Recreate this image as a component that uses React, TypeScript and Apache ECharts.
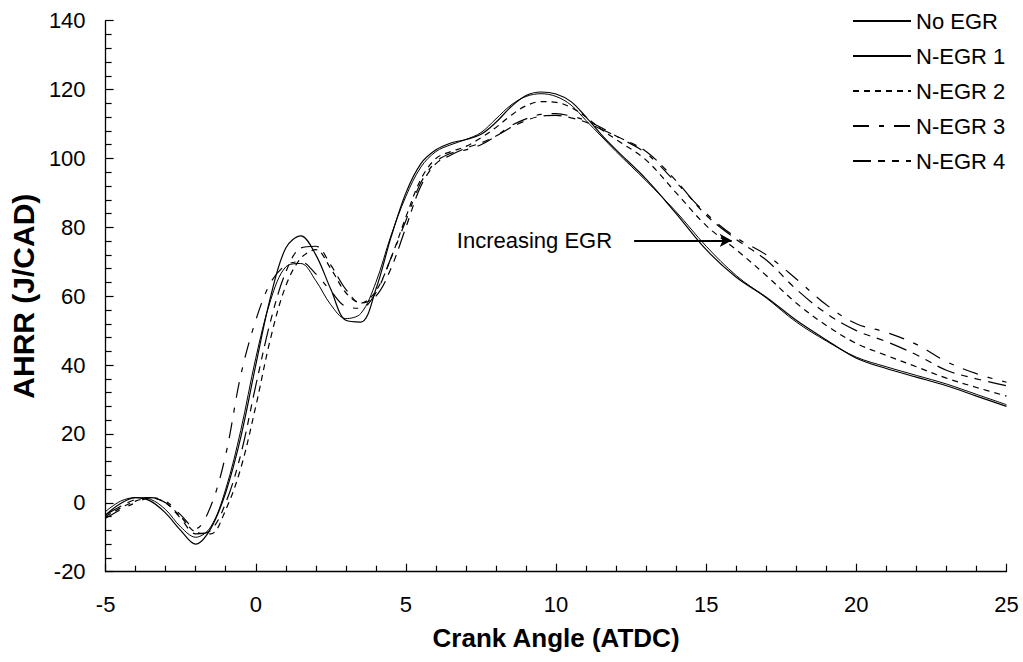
import { useEffect, useRef } from "react";
import * as echarts from "echarts";

// Crank angle samples (deg ATDC)
const crankAngle = [
  -5, -4.5, -4, -3.5, -3, -2.5, -2, -1.5, -1, -0.5, 0, 0.5, 1, 1.5, 2, 2.5, 3, 3.5,
  4, 4.5, 5, 5.5, 6, 6.5, 7, 7.5, 8, 8.5, 9, 9.5, 10, 10.5, 11, 11.5, 12, 13, 14, 15,
  16, 17, 18, 19, 20, 21, 22, 23, 24, 25,
];

// Apparent heat release rate (J/CAD) for each EGR level
const noEgr = [
  -3.5, -0.2, 1.5, 0.5, -3, -8, -12, -7.5, 3, 19, 40, 60, 74, 77.5, 72, 62, 53, 52.5,
  62, 77, 90, 98.5, 102.5, 104.5, 105.5, 107, 110.5, 115, 118.3, 119.3, 118.7, 116.5, 112, 107, 102.5, 94, 84, 73.5,
  65.5, 59.7, 53, 47.3, 42, 39, 36.5, 34, 31, 28,
];
const nEgr1 = [
  -2.5, 0.5, 1.5, 1, -2, -7, -10, -7, 4, 21, 42, 59, 68.5, 69.5, 64.5, 57.5, 53.5, 55,
  64, 77.5, 89, 97.5, 102, 104, 105.5, 107.5, 111.5, 115.5, 118, 118.8, 118, 115.5, 111, 106.5, 102, 93.5, 84.5, 74.5,
  66, 59.5, 52.5, 47, 42.3, 39.5, 37, 34.5, 31.5, 28.5,
];
const nEgr2 = [
  -4, -1.5, 0.5, 1.5, 0, -4, -8.5, -9, -2, 10, 28, 48, 63, 71, 73.5, 68, 61, 58,
  61.5, 71, 83, 94, 100, 102, 103.5, 106, 109, 112.5, 115.3, 116.5, 116.3, 114.8, 112, 108.5, 105.5, 99.5, 90, 80.5,
  73.5, 66, 58, 51.5, 46.3, 42.8, 39.5, 36.2, 33.5, 31,
];
const nEgr3 = [
  -4.5, -2, 0, 1.5, 0.5, -3.5, -7.5, -1, 14, 37, 53, 64, 69, 70, 66.5, 61.5, 57, 56.5,
  61, 71, 82, 93, 99, 101.5, 102.5, 104, 106.5, 109.5, 111.5, 112.8, 113, 112.3, 111, 109, 106.5, 101.5, 93, 84,
  77, 72, 65, 57.5, 52, 49.5, 46, 41, 37.5, 35,
];
const nEgr4 = [
  -3.5, -1, 1, 1.5, 0, -4.5, -9, -8, 0, 14, 34, 53, 67, 74, 74.5, 69, 62, 58,
  60, 68, 80, 92, 98.5, 101, 103, 104.5, 106.5, 109, 111, 112.3, 112.5, 111.8, 110.5, 108.5, 106.5, 102, 93.5, 83.5,
  76.5, 70.5, 62, 55, 50, 46.8, 43, 38.5, 36, 34,
];

const seriesNames = ["No EGR", "N-EGR 1", "N-EGR 2", "N-EGR 3", "N-EGR 4"];
const seriesValues = [noEgr, nEgr1, nEgr2, nEgr3, nEgr4];

// Annotation arrow, in axis units
const arrowLabel = "Increasing EGR";
const arrowFrom = [12.6, 76.2];
const arrowTo = [15.85, 76.2];

const FONT = "'Liberation Sans', Arial, Helvetica, sans-serif";

const dashes: (string | number[])[] = [
  "solid",
  "solid",
  [6, 5],
  [16, 10, 5, 10],
  [18, 7, 7, 7, 7, 7],
];

export default function App() {
  const ref = useRef<HTMLDivElement>(null);

  useEffect(() => {
    if (!ref.current) return;
    const chart = echarts.init(ref.current, null, { renderer: "svg" });

    const series: any[] = seriesNames.map((name, k) => ({
      name,
      type: "line",
      data: crankAngle.map((x, i) => [x, seriesValues[k][i]]),
      smooth: 0.35,
      symbol: "none",
      showSymbol: false,
      lineStyle: { color: "#000", width: k === 1 ? 1 : 1.2, type: dashes[k] },
      itemStyle: { color: "#000" },
      emphasis: { disabled: true },
      z: 2,
    }));

    series[0].markLine = {
      silent: true,
      animation: false,
      symbol: ["none", "arrow"],
      symbolSize: [10, 12],
      lineStyle: { color: "#000", width: 2, type: "solid" },
      label: {
        show: true,
        position: "start",
        distance: 22,
        formatter: arrowLabel,
        fontSize: 22,
        fontFamily: FONT,
        color: "#000",
      },
      emphasis: { disabled: true },
      data: [[{ coord: arrowFrom }, { coord: arrowTo }]],
    };

    chart.setOption({
      animation: false,
      backgroundColor: "#fff",
      textStyle: { fontFamily: FONT, color: "#000" },
      grid: { left: 103.5, right: 16.5, top: 20.7, bottom: 90.3 },
      legend: {
        orient: "vertical",
        left: 852,
        top: 10,
        padding: 0,
        itemWidth: 58,
        itemHeight: 22,
        itemGap: 13,
        selectedMode: false,
        itemStyle: { opacity: 0 },
        textStyle: { fontSize: 22, fontFamily: FONT, color: "#000" },
        data: seriesNames,
      },
      xAxis: {
        type: "value",
        min: -5,
        max: 25,
        interval: 5,
        name: "Crank Angle (ATDC)",
        nameLocation: "middle",
        nameGap: 53,
        nameTextStyle: { fontSize: 26, fontWeight: "bold", fontFamily: FONT, color: "#000" },
        axisLine: { show: true, onZero: false, lineStyle: { color: "#000", width: 1.3 } },
        axisTick: { show: true, inside: true, length: 8, lineStyle: { color: "#000", width: 1.2 } },
        minorTick: { show: true, splitNumber: 5, length: 6, lineStyle: { color: "#000", width: 1.2 } },
        axisLabel: { fontSize: 22, margin: 22, color: "#000", fontFamily: FONT },
        splitLine: { show: false },
      },
      yAxis: {
        type: "value",
        min: -20,
        max: 140,
        interval: 20,
        name: "AHRR (J/CAD)",
        nameLocation: "middle",
        nameGap: 62,
        nameTextStyle: { fontSize: 30, fontWeight: "bold", fontFamily: FONT, color: "#000" },
        axisLine: { show: true, onZero: false, lineStyle: { color: "#000", width: 1.3 } },
        axisTick: { show: true, inside: true, length: 8, lineStyle: { color: "#000", width: 1.2 } },
        minorTick: { show: true, splitNumber: 5, length: 6, lineStyle: { color: "#000", width: 1.2 } },
        axisLabel: { fontSize: 22, margin: 20, color: "#000", fontFamily: FONT },
        splitLine: { show: false },
      },
      series,
    });

    return () => chart.dispose();
  }, []);

  return (
    <div
      ref={ref}
      style={{ position: "fixed", left: 0, top: 0, width: 1023, height: 662, background: "#fff" }}
    />
  );
}
